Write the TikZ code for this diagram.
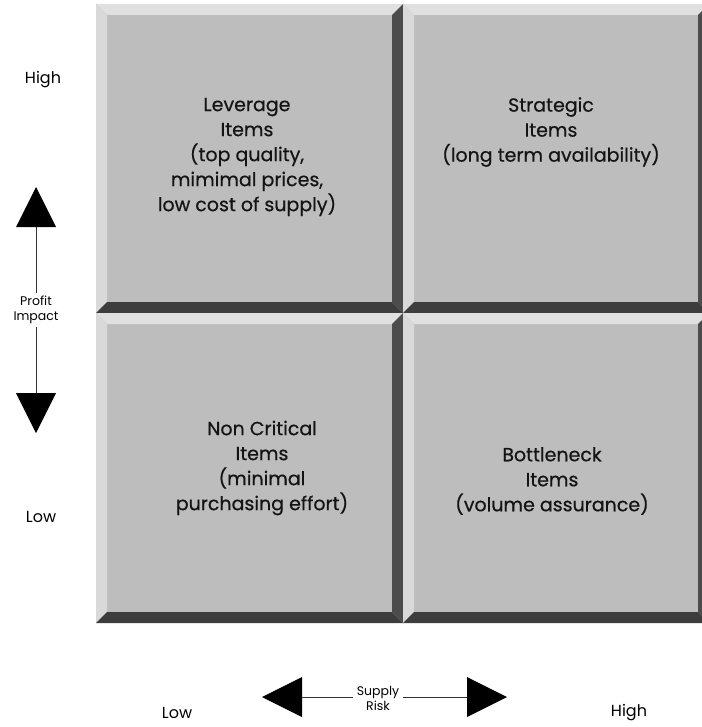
\documentclass[tikz,border=0pt]{standalone}
\usepackage{fontspec}
\setmainfont{Poppins}
\newfontfamily\cellfont{Poppins}[FakeBold=0.5]
\begin{document}
\begin{tikzpicture}[x=1pt,y=-1pt,
  face/.style={fill=black!26},
  bevlight/.style={fill=black!12},
  bevside/.style={fill=black!15},
  bevdark/.style={fill=black!76},
  bevshade/.style={fill=black!70},
  celltext/.style={align=center,font=\cellfont\fontsize{19}{25}\selectfont,text=black!92},
  axistext/.style={font=\fontsize{16}{19}\selectfont},
  smalltext/.style={align=center,font=\fontsize{12.5}{15}\selectfont},
  arrowline/.style={draw=black!80,line width=0.9pt},
  arrowhead/.style={fill=black}]
\useasboundingbox (0,0) rectangle (701,727);
\fill[white] (0,0) rectangle (701,727);

% a raised tile: flat face, light bevels top/left, dark bevels bottom/right
\newcommand\raisedtile[5]{%
  \fill[face] (#1,#2) rectangle (#3,#4);
  \fill[bevlight] (#1,#2) -- (#3,#2) -- (#3-11,#2+11) -- (#1+11,#2+11) -- cycle;
  \fill[bevside] (#1,#2) -- (#1+11,#2+11) -- (#1+11,#4-11) -- (#1,#4) -- cycle;
  \fill[bevdark] (#1,#4) -- (#1+11,#4-11) -- (#3-11,#4-11) -- (#3,#4) -- cycle;
  \fill[bevshade] (#3,#2) -- (#3,#4) -- (#3-11,#4-11) -- (#3-11,#2+11) -- cycle;
  \coordinate (#5) at ({(#1+#3)/2},{(#2+#4)/2});
}
% the right-hand column runs past the page edge
\raisedtile{96}{4}{403}{313}{tl}
\raisedtile{403}{4}{709}{313}{tr}
\raisedtile{96}{313}{403}{623}{bl}
\raisedtile{403}{313}{709}{623}{br}

% quadrant labels
\node[celltext] (lev) at (247,157) {Leverage\\Items\\(top quality,\\mimimal prices,\\low cost of supply)};
\node[celltext] (strat) at (551,132) {Strategic\\Items\\(long term availability)};
\node[celltext] (noncrit) at (262,468) {Non Critical\\Items\\(minimal\\purchasing effort)};
\node[celltext] (bottle) at (552,481) {Bottleneck\\Items\\(volume assurance)};

% axis end labels
\node[axistext] (hileft) at (43,80) {High};
\node[axistext] (loleft) at (41,517) {Low};
\node[axistext] (lobot) at (177,713) {Low};
\node[axistext] (hibot) at (629,713) {High};

% profit impact axis
\node[smalltext] (pi) at (36,310) {Profit\\Impact};
\coordinate (upbase) at (36,227);
\coordinate (dnbase) at (36,393);
\fill[arrowhead] (36,187) -- (56,227) -- (16,227) -- cycle;
\fill[arrowhead] (36,433) -- (56,393) -- (16,393) -- cycle;
\draw[arrowline] (upbase) -- (pi.north);
\draw[arrowline] (pi.south) -- (dnbase);

% supply risk axis
\node[smalltext] (sr) at (378,698) {Supply\\Risk};
\coordinate (lfbase) at (302,697);
\coordinate (rtbase) at (467,697);
\fill[arrowhead] (262,697) -- (302,677) -- (302,717) -- cycle;
\fill[arrowhead] (507,697) -- (467,677) -- (467,717) -- cycle;
\draw[arrowline] (lfbase) -- (sr.west |- lfbase);
\draw[arrowline] (sr.east |- rtbase) -- (rtbase);
\end{tikzpicture}
\end{document}
